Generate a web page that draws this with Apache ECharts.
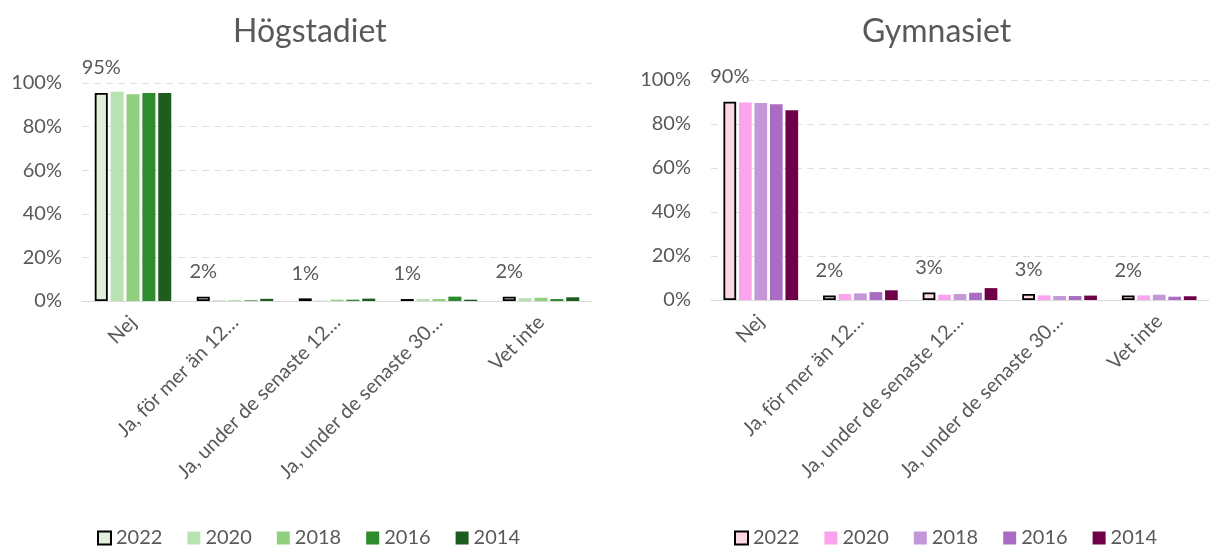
<!DOCTYPE html>
<html>
<head>
<meta charset="utf-8">
<script src="https://cdn.jsdelivr.net/npm/echarts@6/dist/echarts.min.js"></script>
<style>
  html, body { margin: 0; padding: 0; background: #fff; }
  #wrap { position: relative; width: 1209px; height: 546px; overflow: hidden; }
  #left { position: absolute; left: 0; top: 0; width: 605px; height: 546px; }
  #right { position: absolute; left: 604px; top: 0; width: 605px; height: 546px; }
</style>
</head>
<body>
<div id="wrap">
  <div id="left"></div>
  <div id="right"></div>
</div>
<script>
// svarsalternativ (avkortade som i originalet)
var categories = ['Nej', 'Ja, för mer än 12…', 'Ja, under de senaste 12…', 'Ja, under de senaste 30…', 'Vet inte'];
var years = ['2022', '2020', '2018', '2016', '2014'];

// Högstadiet, andel i procent per år
var hog2022 = [95.4, 2.0, 1.2, 0.9, 2.0];
var hog2020 = [96.0, 0.3, 0.2, 0.9, 1.3];
var hog2018 = [94.8, 0.3, 0.6, 0.9, 1.5];
var hog2016 = [95.4, 0.3, 0.6, 2.0, 0.9];
var hog2014 = [95.4, 1.0, 1.1, 0.6, 1.7];

// Gymnasiet, andel i procent per år
var gym2022 = [90.1, 2.1, 3.4, 2.7, 2.1];
var gym2020 = [89.8, 2.7, 2.4, 2.1, 2.1];
var gym2018 = [89.5, 3.0, 2.7, 1.8, 2.4];
var gym2016 = [89.0, 3.6, 3.3, 1.8, 1.5];
var gym2014 = [86.3, 4.4, 5.4, 2.0, 1.7];

var yTicks = [0, 20, 40, 60, 80, 100];

var textColor = '#595959';
var fontFam = 'Lato, "Open Sans", sans-serif';

function makeOption(title, titleLeft, grid, legendLeft, colors, rows){
    var series = [];
    for (var i = 0; i < years.length; i++) {
        var s = {
            name: years[i],
            type: 'bar',
            data: rows[i],
            barGap: '22%',
            barCategoryGap: '25%',
            itemStyle: { color: colors[i] }
        };
        if (i === 0) {
            s.itemStyle.borderColor = '#000';
            s.itemStyle.borderWidth = 1.8;
            s.label = {
                show: true,
                position: 'top',
                distance: 15,
                color: textColor,
                fontSize: 20,
                fontFamily: fontFam,
                formatter: function (p) { return Math.round(p.value) + '%'; }
            };
        }
        series.push(s);
    }
    return {
        animation: false,
        title: {
            text: title,
            left: titleLeft,
            top: 11,
            textStyle: { color: textColor, fontSize: 32, fontWeight: 'normal', fontFamily: fontFam }
        },
        legend: {
            data: years,
            left: legendLeft,
            top: 528,
            padding: 0,
            itemWidth: 13,
            itemHeight: 13,
            itemGap: 25,
            icon: 'rect',
            textStyle: { color: textColor, fontSize: 20, fontFamily: fontFam }
        },
        grid: grid,
        xAxis: {
            type: 'category',
            data: categories,
            axisLine: { lineStyle: { color: '#d9d9d9' } },
            axisTick: { show: false },
            axisLabel: {
                rotate: 45,
                interval: 0,
                margin: 18,
                color: textColor,
                fontSize: 20,
                fontFamily: fontFam
            }
        },
        yAxis: {
            type: 'value',
            min: yTicks[0],
            max: yTicks[yTicks.length - 1],
            interval: 20,
            axisLine: { show: false },
            axisTick: { show: false },
            axisLabel: {
                margin: 20,
                color: textColor,
                fontSize: 20,
                fontFamily: fontFam,
                formatter: '{value}%'
            },
            splitLine: { lineStyle: { color: '#dedede', type: [7, 5] } }
        },
        series: series
    };
}

var leftChart = echarts.init(document.getElementById('left'));
leftChart.setOption(makeOption(
    'Högstadiet', 228, { left: 82, right: 13, top: 83, bottom: 245 }, 97,
    ['#e2efda', '#b9e2b3', '#8fd07e', '#2e8b2e', '#1f5c1f'],
    [hog2022, hog2020, hog2018, hog2016, hog2014]
));

var rightChart = echarts.init(document.getElementById('right'));
rightChart.setOption(makeOption(
    'Gymnasiet', 253, { left: 107, right: -12, top: 80, bottom: 246 }, 130,
    ['#fcd8e2', '#fba3ec', '#c397d8', '#a96cc2', '#6d0046'],
    [gym2022, gym2020, gym2018, gym2016, gym2014]
));
</script>
</body>
</html>
